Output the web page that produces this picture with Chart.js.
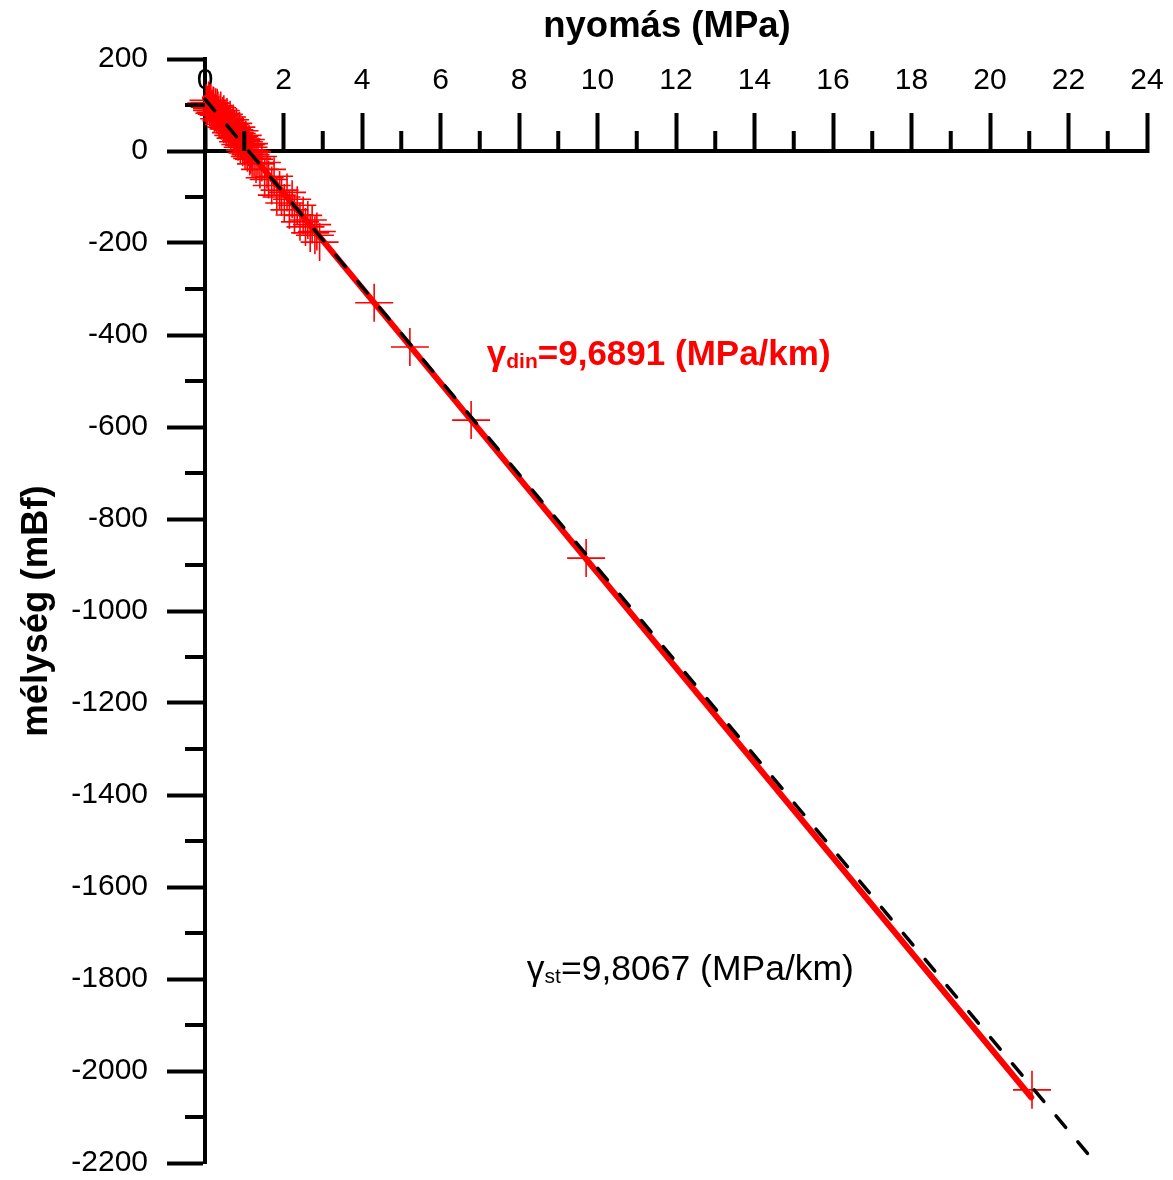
<!DOCTYPE html>
<html>
<head>
<meta charset="utf-8">
<script src="https://cdn.jsdelivr.net/npm/chart.js@4/dist/chart.umd.min.js"></script>
<style>
html,body{margin:0;padding:0;background:#fff;}
#wrap{width:1173px;height:1180px;}
</style>
</head>
<body>
<div id="wrap"><canvas id="c" width="1173" height="1180"></canvas></div>
<script>
// ---- data ----
const pressure = [0.05,0.12,0.18,0.22,0.27,0.31,0.35,0.40,0.44,0.48,0.52,0.56,0.60,0.64,0.68,0.72,0.76,0.80,0.84,0.88,
  0.92,0.96,1.00,1.04,1.08,1.12,1.16,1.20,1.25,1.30,1.35,1.40,1.45,1.52,1.58,1.62,1.70,1.76,1.83,1.90,
  1.95,2.02,2.09,2.15,2.22,2.28,2.35,2.42,2.50,2.56,2.62,2.68,2.73,2.80,2.85,2.92,
  0.03,0.06,0.09,0.12,0.15,0.18,0.21,0.24,0.27,0.30,0.33,0.36,0.39,0.42,0.45,0.48,0.51,0.54,0.57,0.60,
  0.63,0.66,0.69,0.72,0.75,0.78,0.81,0.84,0.87,0.90,0.93,0.96,0.99,1.02,1.05,1.08,1.11,1.14,1.17,1.20,
  4.31,5.22,6.78,9.71,21.07];
const depth = [100,104,92,98,84,94,78,88,70,80,66,74,55,68,48,60,40,52,30,44,
  22,34,12,25,2,16,-8,-2,-18,-28,-12,-40,-25,-58,-40,-62,-75,-55,-96,-85,
  -100,-113,-90,-128,-105,-139,-118,-154,-140,-165,-150,-178,-160,-183,-175,-198,
  104,100,110,95,104,88,99,82,95,80,88,70,82,66,76,58,70,52,62,48,
  58,40,50,34,46,28,38,20,32,14,26,8,20,2,14,-4,8,-12,0,-16,
  -330,-426,-585,-885,-2041];
const dinLineX = [0, 21.05];
const dinLineY = [115, -2057];
const stLineX = [0, 22.55];
const stLineY = [113, -2186];
const xTickValues = [0,2,4,6,8,10,12,14,16,18,20,22,24];
const xMinorTicks = [1,3,5,7,9,11,13,15,17,19,21,23];
const yTickValues = [200,0,-200,-400,-600,-800,-1000,-1200,-1400,-1600,-1800,-2000,-2200];
const yMinorTicks = [100,-100,-300,-500,-700,-900,-1100,-1300,-1500,-1700,-1900,-2100];
const xTitle = 'nyomás (MPa)';
const yTitle = 'mélység (mBf)';
const dinLabel = ['γ', 'din', '=9,6891 (MPa/km)'];
const stLabel = ['γ', 'st', '=9,8067 (MPa/km)'];

const FAM = '"Liberation Sans", Arial, Helvetica, sans-serif';

function pts(xs, ys){ return xs.map((v,i)=>({x:v, y:ys[i]})); }

function drawSubLabel(ctx, parts, px, py, color, weight, size, subSize, subDrop){
  ctx.fillStyle = color;
  ctx.textAlign = 'left';
  ctx.textBaseline = 'alphabetic';
  let cx = px;
  ctx.font = weight + ' ' + size + 'px ' + FAM;
  ctx.fillText(parts[0], cx, py);
  cx += ctx.measureText(parts[0]).width;
  ctx.font = weight + ' ' + subSize + 'px ' + FAM;
  ctx.fillText(parts[1], cx, py + subDrop);
  cx += ctx.measureText(parts[1]).width;
  ctx.font = weight + ' ' + size + 'px ' + FAM;
  ctx.fillText(parts[2], cx, py);
}

const extras = {
  id: 'extras',
  afterDraw(chart){
    const {ctx, chartArea, scales} = chart;
    const xs = scales.x, ys = scales.y;
    ctx.save();
    ctx.strokeStyle = '#000';
    ctx.lineWidth = 4;
    ctx.lineCap = 'butt';
    const y0 = ys.getPixelForValue(0);
    xMinorTicks.forEach(v => {
      const p = xs.getPixelForValue(v);
      ctx.beginPath(); ctx.moveTo(p, y0); ctx.lineTo(p, y0 - 20); ctx.stroke();
    });
    yMinorTicks.forEach(v => {
      const p = ys.getPixelForValue(v);
      ctx.beginPath(); ctx.moveTo(chartArea.left, p); ctx.lineTo(chartArea.left - 20, p); ctx.stroke();
    });
    // x axis title
    ctx.fillStyle = '#000';
    ctx.font = 'bold 36.5px ' + FAM;
    ctx.textAlign = 'center';
    ctx.textBaseline = 'middle';
    ctx.fillText(xTitle, (chartArea.left + chartArea.right) / 2 - 9, 27);
    // annotations
    drawSubLabel(ctx, dinLabel, xs.getPixelForValue(7.18), ys.getPixelForValue(-465), '#ff0000', 'bold', 35, 21, 3);
    drawSubLabel(ctx, stLabel, xs.getPixelForValue(8.2), ys.getPixelForValue(-1802), '#000000', 'normal', 35.5, 21, 3);
    ctx.restore();
  }
};

new Chart(document.getElementById('c'), {
  type: 'scatter',
  data: {
    datasets: [
      {
        label: 'gamma st',
        data: pts(stLineX, stLineY),
        showLine: true,
        borderColor: '#000',
        borderWidth: 3.5,
        borderDash: [15, 19],
        borderCapStyle: 'round',
        pointRadius: 0,
        fill: false,
        clip: false
      },
      {
        label: 'gamma din',
        data: pts(dinLineX, dinLineY),
        showLine: true,
        borderColor: '#ff0000',
        borderWidth: 6,
        borderCapStyle: 'round',
        pointRadius: 0,
        fill: false,
        clip: false
      },
      {
        label: 'mért',
        data: pts(pressure, depth),
        showLine: false,
        pointStyle: 'cross',
        pointRadius: 19,
        pointBorderWidth: 1.6,
        borderColor: '#ff0000',
        backgroundColor: '#ff0000',
        clip: false
      }
    ]
  },
  options: {
    responsive: false,
    devicePixelRatio: 1,
    animation: false,
    layout: { autoPadding: false, padding: { left: 0, top: 59, right: 26, bottom: 17 } },
    plugins: { legend: { display: false }, tooltip: { enabled: false } },
    scales: {
      x: {
        type: 'linear',
        position: { y: 0 },
        min: 0, max: 24,
        z: 1,
        afterBuildTicks: s => { s.ticks = xTickValues.map(v => ({ value: v })); },
        afterFit: s => { s.paddingLeft = 0; s.paddingRight = 0; s.paddingTop = 0; s.paddingBottom = 0; },
        ticks: {
          color: '#000',
          font: { family: FAM, size: 30 },
          padding: -48,
          maxRotation: 0, minRotation: 0,
          autoSkip: false,
          callback: v => String(v)
        },
        grid: { drawOnChartArea: false, drawTicks: true, tickLength: -40, tickWidth: 4, tickColor: '#000' },
        border: { display: true, color: '#000', width: 4 }
      },
      y: {
        type: 'linear',
        position: 'left',
        min: -2200, max: 200,
        z: 1,
        afterBuildTicks: s => { s.ticks = yTickValues.map(v => ({ value: v })); },
        afterFit: s => { s.width = 205; s.paddingTop = 0; s.paddingBottom = 0; },
        ticks: {
          color: '#000',
          font: { family: FAM, size: 30, lineHeight: 1 },
          padding: 19,
          autoSkip: false,
          callback: v => String(v)
        },
        grid: { drawOnChartArea: false, drawTicks: true, tickLength: 38, tickWidth: 4, tickColor: '#000' },
        border: { display: true, color: '#000', width: 4 },
        title: {
          display: true,
          text: yTitle,
          color: '#000',
          font: { family: FAM, size: 36.5, weight: 'bold' },
          padding: { top: 15, bottom: 0 }
        }
      }
    }
  },
  plugins: [extras]
});
</script>
</body>
</html>
